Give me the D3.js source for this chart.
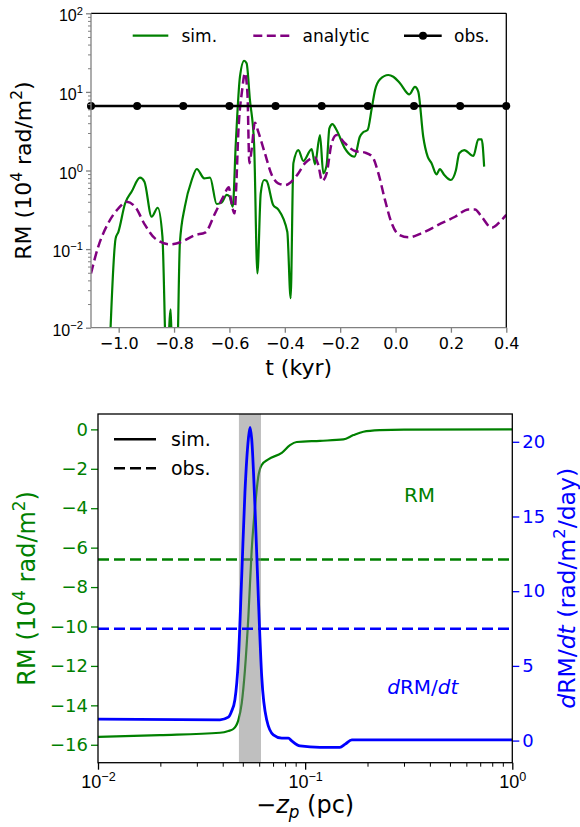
<!DOCTYPE html>
<html><head><meta charset="utf-8">
<script src="https://cdn.jsdelivr.net/npm/d3@7"></script>
<style>
body{margin:0;background:#fff}
svg{font-family:"DejaVu Sans",sans-serif;display:block}
</style>
</head><body>
<svg id="c" width="580" height="827"></svg>
<script>
// ---------- top panel data ----------
const simT = [-1.035,-1.011,-1.001,-0.977,-0.953,-0.923,-0.907,-0.881,-0.859,-0.842,-0.827,-0.812,-0.806,-0.790,-0.779,-0.761,-0.736,-0.718,-0.691,-0.670,-0.646,-0.628,-0.610,-0.600,-0.588,-0.577,-0.562,-0.547,-0.538,-0.526,-0.511,-0.499,-0.487,-0.475,-0.466,-0.442,-0.424,-0.391,-0.379,-0.369,-0.351,-0.333,-0.303,-0.291,-0.273,-0.261,-0.249,-0.239,-0.228,-0.213,-0.183,-0.158,-0.148,-0.129,-0.117,-0.101,-0.086,-0.074,-0.056,-0.026,-0.008,0.016,0.050,0.070,0.082,0.100,0.116,0.130,0.148,0.160,0.176,0.199,0.218,0.230,0.248,0.281,0.299,0.311,0.320];
const simRM = [0.003,0.137,0.166,0.38,0.54,0.81,0.72,0.258,0.336,0.144,0.003,0.0171,0.003,0.003,0.119,0.347,0.757,1.045,0.796,0.81,0.375,0.39,0.49,0.47,0.347,2.22,15.6,24.9,23.1,7.9,2.22,0.049,0.51,0.757,0.74,0.364,0.32,0.166,0.0237,1.24,1.82,1.32,1.87,1.2,2.83,0.92,1.17,3.44,3.9,3.27,1.91,1.53,1.5,2.69,3.06,3.27,6.18,10.6,14.5,16.4,15.6,12.9,9.3,11.6,10.1,2.69,1.5,1.24,0.895,1.04,0.877,0.757,1.01,1.66,1.82,1.53,2.49,2.49,1.12];
const anaT = [-1.1,-1.074,-1.038,-1.001,-0.971,-0.941,-0.905,-0.869,-0.815,-0.772,-0.724,-0.688,-0.652,-0.622,-0.602,-0.596,-0.582,-0.576,-0.568,-0.554,-0.544,-0.535,-0.528,-0.520,-0.508,-0.496,-0.472,-0.447,-0.424,-0.399,-0.355,-0.327,-0.291,-0.279,-0.265,-0.249,-0.231,-0.213,-0.183,-0.147,-0.110,-0.084,-0.062,-0.038,-0.014,0.010,0.046,0.094,0.154,0.215,0.263,0.287,0.311,0.347,0.383,0.4];
const anaRM = [0.049,0.107,0.213,0.33,0.40,0.347,0.203,0.137,0.115,0.124,0.151,0.162,0.285,0.464,0.61,0.46,0.285,0.565,2.97,10.6,17.3,9.6,1.24,1.82,4.06,3.12,1.66,0.877,0.687,0.654,0.88,1.24,1.46,1.17,0.735,0.92,2.22,2.83,2.22,1.77,1.69,1.5,0.92,0.42,0.213,0.154,0.141,0.159,0.203,0.258,0.32,0.32,0.258,0.187,0.234,0.272];
const obsT = [-1.1,-0.9333,-0.7667,-0.6,-0.4333,-0.2667,-0.1,0.0667,0.2333,0.4];
const obsRM = [6.6,6.6,6.6,6.6,6.6,6.6,6.6,6.6,6.6,6.6];
const topXTicks = [-1.0,-0.8,-0.6,-0.4,-0.2,0.0,0.2,0.4];
const topYTicks = [1e-2,1e-1,1e0,1e1,1e2];
const topYTickExp = ["−2","−1","0","1","2"];

// ---------- bottom panel data ----------
const zpRM = [0.01,0.0199,0.0388,0.0426,0.045,0.0476,0.0494,0.0512,0.0532,0.0552,0.0573,0.0594,0.0617,0.0664,0.0771,0.0845,0.091,0.118,0.153,0.171,0.191,0.23,0.3,1.0];
const valRM = [-15.6,-15.51,-15.39,-15.3,-15.2,-14.75,-13.9,-12.21,-9.5,-6.12,-3.93,-2.4,-1.81,-1.52,-1.19,-0.8,-0.64,-0.58,-0.51,-0.29,-0.12,-0.04,-0.01,0];
const zpDRM = [0.01,0.0388,0.0426,0.0441,0.0458,0.0476,0.0494,0.0512,0.0532,0.0542,0.0552,0.0573,0.0594,0.0617,0.0652,0.0702,0.0771,0.083,0.0861,0.0944,0.118,0.147,0.156,0.168,1.0];
const valDRM = [1.44,1.39,1.57,1.95,2.73,5.42,11.0,16.6,20.2,20.97,20.2,15.5,9.66,4.3,1.39,0.38,0.16,0.16,-0.02,-0.36,-0.45,-0.45,-0.24,0.05,0.05];
const obsRMb = [-6.6];
const obsDRM = [7.48];
const band = [0.0479,0.0612];
const botXTicks = [0.01,0.1,1];
const botXTickExp = ["−2","−1","0"];
const botLTicks = [0,-2,-4,-6,-8,-10,-12,-14,-16];
const botRTicks = [0,5,10,15,20];

const svg = d3.select("#c");
const GREEN="#008000", PURPLE="#800080", BLUE="#0000ff", GRAY="#808080";

function rich(sel, parts, fs){
  let shift=0;
  parts.forEach(p=>{
    const ts = sel.append("tspan").text(p.t);
    let target = 0, size=fs;
    if(p.sup){ target=-0.42*fs; size=fs*0.7; }
    if(p.sub){ target=0.22*fs; size=fs*0.7; }
    ts.attr("dy", target-shift).attr("font-size", size);
    if(p.it) ts.attr("font-style","italic");
    shift=target;
  });
}

// ================= TOP PANEL =================
const L1=91, R1=506.3, T1=13.3, B1=327.7;
const x1 = d3.scaleLinear().domain([-1.1,0.4]).range([L1,R1]);
const y1 = d3.scaleLog().domain([1e-2,1e2]).range([B1,T1]);

svg.append("clipPath").attr("id","clip1").append("rect").attr("x",L1).attr("y",T1).attr("width",R1-L1).attr("height",B1-T1);

const g1 = svg.append("g");
const line1 = d3.line().x((d,i)=>x1(d[0])).y(d=>y1(d[1])).curve(d3.curveMonotoneX);
g1.append("path").attr("clip-path","url(#clip1)")
  .attr("d", line1(simT.map((t,i)=>[t,simRM[i]])))
  .attr("fill","none").attr("stroke",GREEN).attr("stroke-width",2.2).attr("stroke-linejoin","round");
g1.append("path").attr("clip-path","url(#clip1)")
  .attr("d", line1(anaT.map((t,i)=>[t,anaRM[i]])))
  .attr("fill","none").attr("stroke",PURPLE).attr("stroke-width",2.5).attr("stroke-dasharray","9,4.5");
g1.append("path")
  .attr("d", d3.line().x(d=>x1(d[0])).y(d=>y1(d[1]))(obsT.map((t,i)=>[t,obsRM[i]])))
  .attr("fill","none").attr("stroke","#000").attr("stroke-width",2.5);
g1.selectAll("circle.obs").data(obsT).join("circle").attr("class","obs")
  .attr("cx",d=>x1(d)).attr("cy",(d,i)=>y1(obsRM[i])).attr("r",4).attr("fill","#000");

// axes top
const ax1 = svg.append("g").attr("transform",`translate(0,${B1})`)
  .call(d3.axisBottom(x1).tickValues(topXTicks).tickSize(5).tickSizeOuter(0).tickPadding(5)
        .tickFormat(d=>d3.format(".1f")(d)));
ax1.select(".domain").remove();
ax1.selectAll(".tick line").attr("stroke",GRAY).attr("stroke-width",1.3);
ax1.selectAll(".tick text").attr("font-size",16).attr("font-family","DejaVu Sans").attr("fill","#000");

const ay1 = svg.append("g").attr("transform",`translate(${L1},0)`)
  .call(d3.axisLeft(y1).tickValues(topYTicks).tickSize(5).tickSizeOuter(0).tickFormat(""));
ay1.select(".domain").remove();
ay1.selectAll(".tick line").attr("stroke",GRAY).attr("stroke-width",1.3);
ay1.selectAll(".tick").each(function(d,i){
  const t = d3.select(this).append("text").attr("x",-8).attr("y",7.5)
    .attr("text-anchor","end").attr("fill","#000").attr("font-size",16);
  rich(t,[{t:"10"},{t:topYTickExp[i],sup:true}],16);
});
const minors1=[];
for(let e=-2;e<2;e++) for(let m=2;m<10;m++) minors1.push(m*Math.pow(10,e));
const aym = svg.append("g").attr("transform",`translate(${L1},0)`)
  .call(d3.axisLeft(y1).tickValues(minors1).tickSize(3).tickSizeOuter(0).tickFormat(""));
aym.select(".domain").remove();
aym.selectAll(".tick line").attr("stroke",GRAY).attr("stroke-width",1);

// spines top
svg.append("line").attr("x1",L1).attr("x2",R1).attr("y1",T1).attr("y2",T1).attr("stroke","#000").attr("stroke-width",1.3);
svg.append("line").attr("x1",R1).attr("x2",R1).attr("y1",T1).attr("y2",B1).attr("stroke","#000").attr("stroke-width",1.3);
svg.append("line").attr("x1",L1).attr("x2",L1).attr("y1",T1).attr("y2",B1).attr("stroke",GRAY).attr("stroke-width",1.3);
svg.append("line").attr("x1",L1).attr("x2",R1).attr("y1",B1).attr("y2",B1).attr("stroke",GRAY).attr("stroke-width",1.3);

// labels top
svg.append("text").attr("x",(L1+R1)/2).attr("y",375).attr("text-anchor","middle").attr("font-size",22).text("t (kyr)");
{
  const t = svg.append("text").attr("transform",`translate(31,${(T1+B1)/2}) rotate(-90)`)
    .attr("text-anchor","middle").attr("font-size",22);
  rich(t,[{t:"RM (10"},{t:"4",sup:true},{t:" rad/m"},{t:"2",sup:true},{t:")"}],22);
}
// legend top
{
  const ly=35.7;
  svg.append("line").attr("x1",132.7).attr("x2",168.3).attr("y1",ly).attr("y2",ly).attr("stroke",GREEN).attr("stroke-width",2.2);
  svg.append("text").attr("x",181.5).attr("y",ly+6).attr("font-size",17).text("sim.");
  svg.append("line").attr("x1",253.3).attr("x2",291.7).attr("y1",ly).attr("y2",ly).attr("stroke",PURPLE).attr("stroke-width",2.5).attr("stroke-dasharray","9,4.5");
  svg.append("text").attr("x",302.5).attr("y",ly+6).attr("font-size",17).text("analytic");
  svg.append("line").attr("x1",404).attr("x2",441.7).attr("y1",ly).attr("y2",ly).attr("stroke","#000").attr("stroke-width",2.5);
  svg.append("circle").attr("cx",423).attr("cy",ly).attr("r",4).attr("fill","#000");
  svg.append("text").attr("x",454).attr("y",ly+6).attr("font-size",17).text("obs.");
}

// ================= BOTTOM PANEL =================
const L2=98, R2=512.3, T2=414, B2=762.7;
const x2 = d3.scaleLog().domain([0.01,1]).range([L2,R2]);
const yL = d3.scaleLinear().domain([-16.91,0.78]).range([B2,T2]);
const yR = d3.scaleLinear().domain([-1.48,21.86]).range([B2,T2]);

svg.append("clipPath").attr("id","clip2").append("rect").attr("x",L2).attr("y",T2).attr("width",R2-L2).attr("height",B2-T2);
const g2 = svg.append("g").attr("clip-path","url(#clip2)");
g2.append("path").attr("d", d3.line().x(d=>x2(d[0])).y(d=>yL(d[1])).curve(d3.curveMonotoneX)(zpRM.map((z,i)=>[z,valRM[i]])))
  .attr("fill","none").attr("stroke",GREEN).attr("stroke-width",2.2);
g2.append("line").attr("x1",L2).attr("x2",R2).attr("y1",yL(obsRMb[0])).attr("y2",yL(obsRMb[0]))
  .attr("stroke",GREEN).attr("stroke-width",2.5).attr("stroke-dasharray","11,5");
g2.append("rect").attr("x",x2(band[0])).attr("width",x2(band[1])-x2(band[0]))
  .attr("y",T2).attr("height",B2-T2).attr("fill",GRAY).attr("opacity",0.5);
g2.append("line").attr("x1",L2).attr("x2",R2).attr("y1",yR(obsDRM[0])).attr("y2",yR(obsDRM[0]))
  .attr("stroke",BLUE).attr("stroke-width",2.5).attr("stroke-dasharray","11,5");
g2.append("path").attr("d", d3.line().x(d=>x2(d[0])).y(d=>yR(d[1])).curve(d3.curveMonotoneX)(zpDRM.map((z,i)=>[z,valDRM[i]])))
  .attr("fill","none").attr("stroke",BLUE).attr("stroke-width",2.8);

// axes bottom
const ax2 = svg.append("g").attr("transform",`translate(0,${B2})`)
  .call(d3.axisBottom(x2).tickValues(botXTicks).tickSize(7).tickSizeOuter(0).tickFormat(""));
ax2.select(".domain").remove();
ax2.selectAll(".tick line").attr("stroke","#000").attr("stroke-width",1.3);
ax2.selectAll(".tick").each(function(d,i){
  const t=d3.select(this).append("text").attr("y",25.6).attr("text-anchor","middle").attr("fill","#000").attr("font-size",18);
  rich(t,[{t:"10"},{t:botXTickExp[i],sup:true}],18);
});
const minors2=[];
for(let e=-2;e<0;e++) for(let m=2;m<10;m++) minors2.push(m*Math.pow(10,e));
const ax2m = svg.append("g").attr("transform",`translate(0,${B2})`)
  .call(d3.axisBottom(x2).tickValues(minors2).tickSize(4).tickSizeOuter(0).tickFormat(""));
ax2m.select(".domain").remove();
ax2m.selectAll(".tick line").attr("stroke","#000").attr("stroke-width",1);

const ayL = svg.append("g").attr("transform",`translate(${L2},0)`)
  .call(d3.axisLeft(yL).tickValues(botLTicks).tickSize(7).tickSizeOuter(0).tickPadding(3)
        .tickFormat(d=>d3.format("d")(d)));
ayL.select(".domain").remove();
ayL.selectAll(".tick line").attr("stroke",GREEN).attr("stroke-width",1.3);
ayL.selectAll(".tick text").attr("fill",GREEN).attr("font-size",18).attr("font-family","DejaVu Sans");

const ayR = svg.append("g").attr("transform",`translate(${R2},0)`)
  .call(d3.axisRight(yR).tickValues(botRTicks).tickSize(7).tickSizeOuter(0).tickPadding(3));
ayR.select(".domain").remove();
ayR.selectAll(".tick line").attr("stroke",BLUE).attr("stroke-width",1.3);
ayR.selectAll(".tick text").attr("fill",BLUE).attr("font-size",18).attr("font-family","DejaVu Sans");

svg.append("rect").attr("x",L2).attr("y",T2).attr("width",R2-L2).attr("height",B2-T2)
  .attr("fill","none").attr("stroke","#000").attr("stroke-width",1.3);

// labels bottom
{
  const t=svg.append("text").attr("x",(L2+R2)/2).attr("y",813).attr("text-anchor","middle").attr("font-size",24);
  rich(t,[{t:"−"},{t:"z",it:true},{t:"p",it:true,sub:true},{t:" (pc)"}],24);
  const tl = svg.append("text").attr("transform",`translate(35,${(T2+B2)/2}) rotate(-90)`)
    .attr("text-anchor","middle").attr("font-size",24).attr("fill",GREEN);
  rich(tl,[{t:"RM (10"},{t:"4",sup:true},{t:" rad/m"},{t:"2",sup:true},{t:")"}],24);
  const tr = svg.append("text").attr("transform",`translate(574.5,${(T2+B2)/2}) rotate(-90)`)
    .attr("text-anchor","middle").attr("font-size",23.5).attr("fill",BLUE);
  rich(tr,[{t:"d",it:true},{t:"RM/"},{t:"dt",it:true},{t:" (rad/m"},{t:"2",sup:true},{t:"/day)"}],23.5);
}
svg.append("text").attr("x",419.5).attr("y",501.7).attr("text-anchor","middle").attr("font-size",20).attr("fill",GREEN).text("RM");
{
  const t=svg.append("text").attr("x",422.8).attr("y",694.3).attr("text-anchor","middle").attr("font-size",20).attr("fill",BLUE);
  rich(t,[{t:"d",it:true},{t:"RM/"},{t:"dt",it:true}],20);
}
// legend bottom
svg.append("line").attr("x1",114).attr("x2",156).attr("y1",439.3).attr("y2",439.3).attr("stroke","#000").attr("stroke-width",2.5);
svg.append("text").attr("x",171).attr("y",446).attr("font-size",19).text("sim.");
svg.append("line").attr("x1",114).attr("x2",156).attr("y1",468.3).attr("y2",468.3).attr("stroke","#000").attr("stroke-width",2.5).attr("stroke-dasharray","11,5");
svg.append("text").attr("x",171).attr("y",475).attr("font-size",19).text("obs.");
</script>
</body></html>
